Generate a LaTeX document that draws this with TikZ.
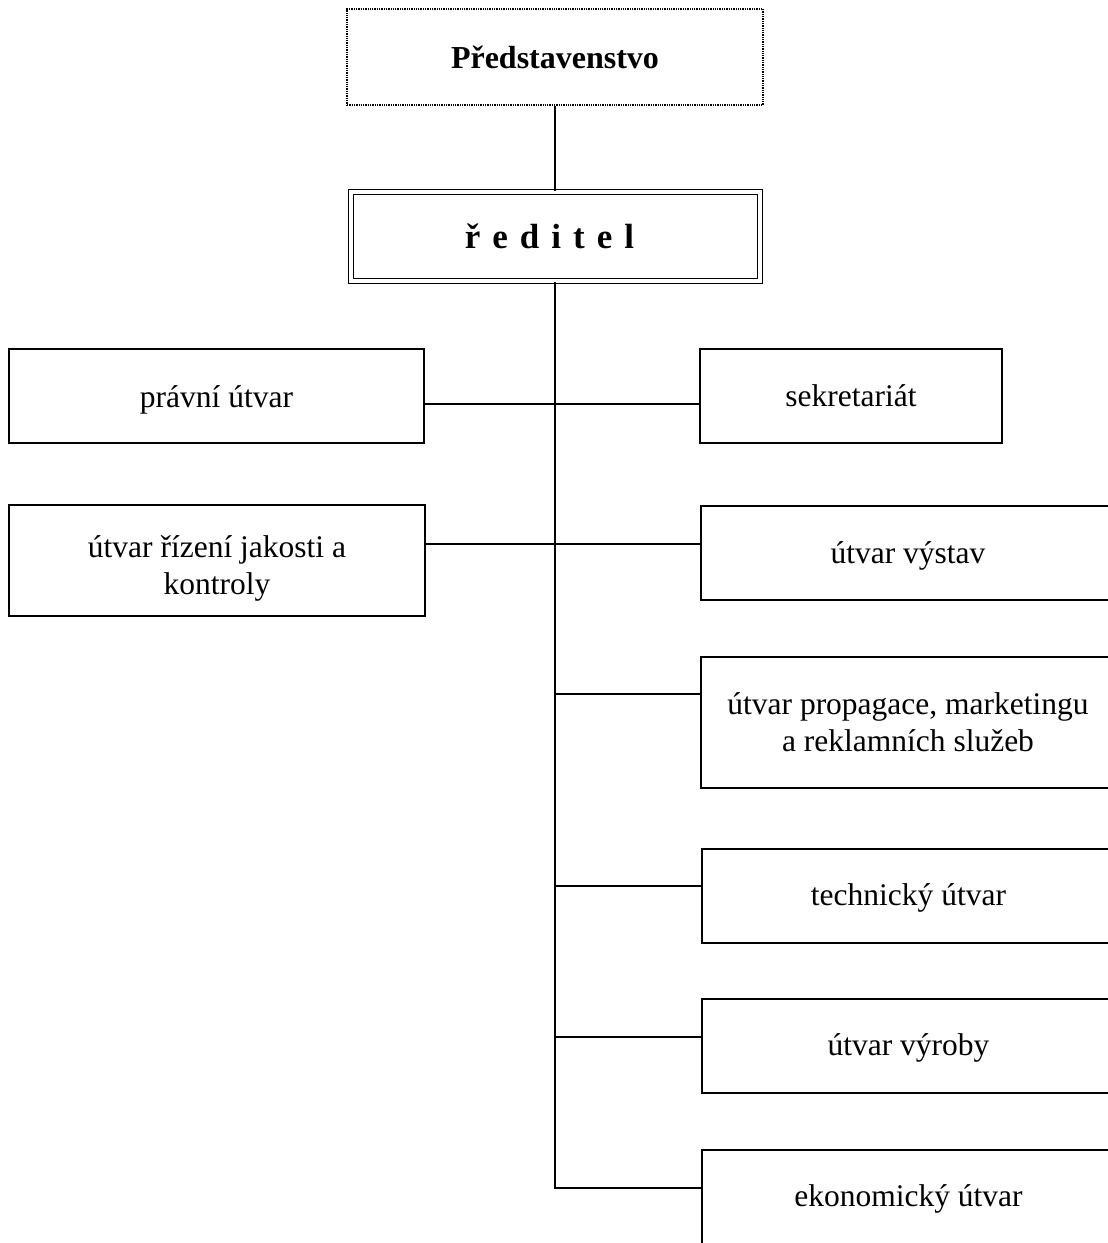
\documentclass[tikz,border=0pt]{standalone}
\usepackage{fontspec}
\setmainfont{Liberation Serif}
\newcommand{\lsp}{\hspace{12pt}}
\newcommand{\down}[2]{\raisebox{-#1}[\height][\depth]{#2}}
\begin{document}
\begin{tikzpicture}[x=1pt,y=-1pt,
  box/.style={draw, line width=1.6pt, inner sep=0pt, align=center,
    font=\fontsize{31.5}{37}\selectfont},
  topbox/.style={draw, densely dotted, line width=1.3pt, inner sep=0pt, align=center,
    font=\bfseries\fontsize{32}{40}\selectfont},
  headbox/.style={draw, line width=1.4pt, double, double distance=4pt, inner sep=0pt,
    align=center, font=\bfseries\fontsize{35}{40}\selectfont},
  conn/.style={line width=1.5pt}]
\useasboundingbox (0,0) rectangle (1108,1243);
\fill[white] (0,0) rectangle (1108,1243);

\node[topbox, minimum width=416pt, minimum height=96pt] (pred) at (555,57) {Představenstvo};
\node[headbox, minimum width=409pt, minimum height=89pt] (red) at (555.5,236.5)
  {\hspace{-12pt}ř\lsp e\lsp d\lsp i\lsp t\lsp e\lsp l};

\node[box, minimum width=415pt, minimum height=94pt] (pravni) at (216.5,396) {\down{4pt}{právní útvar}};
\node[box, minimum width=302pt, minimum height=94pt] (sekr) at (851,396) {sekretariát};
\node[box, minimum width=416pt, minimum height=111pt] (rizeni) at (217,560.5)
  {\down{8pt}{\begin{tabular}{@{}c@{}}útvar řízení jakosti a\\kontroly\end{tabular}}};
\node[box, minimum width=414pt, minimum height=94pt] (vystav) at (908,553) {\down{3pt}{útvar výstav}};
\node[box, minimum width=414pt, minimum height=131pt] (prop) at (908,722.5)
  {útvar propagace, marketingu\\a reklamních služeb};
\node[box, minimum width=413pt, minimum height=94pt] (tech) at (908.5,896) {\down{2pt}{technický útvar}};
\node[box, minimum width=413pt, minimum height=94pt] (vyroby) at (908.5,1046) {\down{2pt}{útvar výroby}};
\node[box, minimum width=413pt, minimum height=94pt] (ekon) at (908.5,1197) {\down{2pt}{ekonomický útvar}};

\coordinate (t404) at (555,404);
\coordinate (t544) at (555,544);
\coordinate (t694) at (555,694);
\coordinate (t886) at (555,886);
\coordinate (t1037) at (555,1037);
\coordinate (tend) at (555,1188);

\draw[conn] (pred.south) -- (pred.south |- red.north);
\draw[conn] (red.south -| tend) -- (tend) -- (ekon.west |- tend);
\draw[conn] (pravni.east |- t404) -- (sekr.west |- t404);
\draw[conn] (rizeni.east |- t544) -- (vystav.west |- t544);
\draw[conn] (t694) -- (prop.west |- t694);
\draw[conn] (t886) -- (tech.west |- t886);
\draw[conn] (t1037) -- (vyroby.west |- t1037);
\end{tikzpicture}
\end{document}
